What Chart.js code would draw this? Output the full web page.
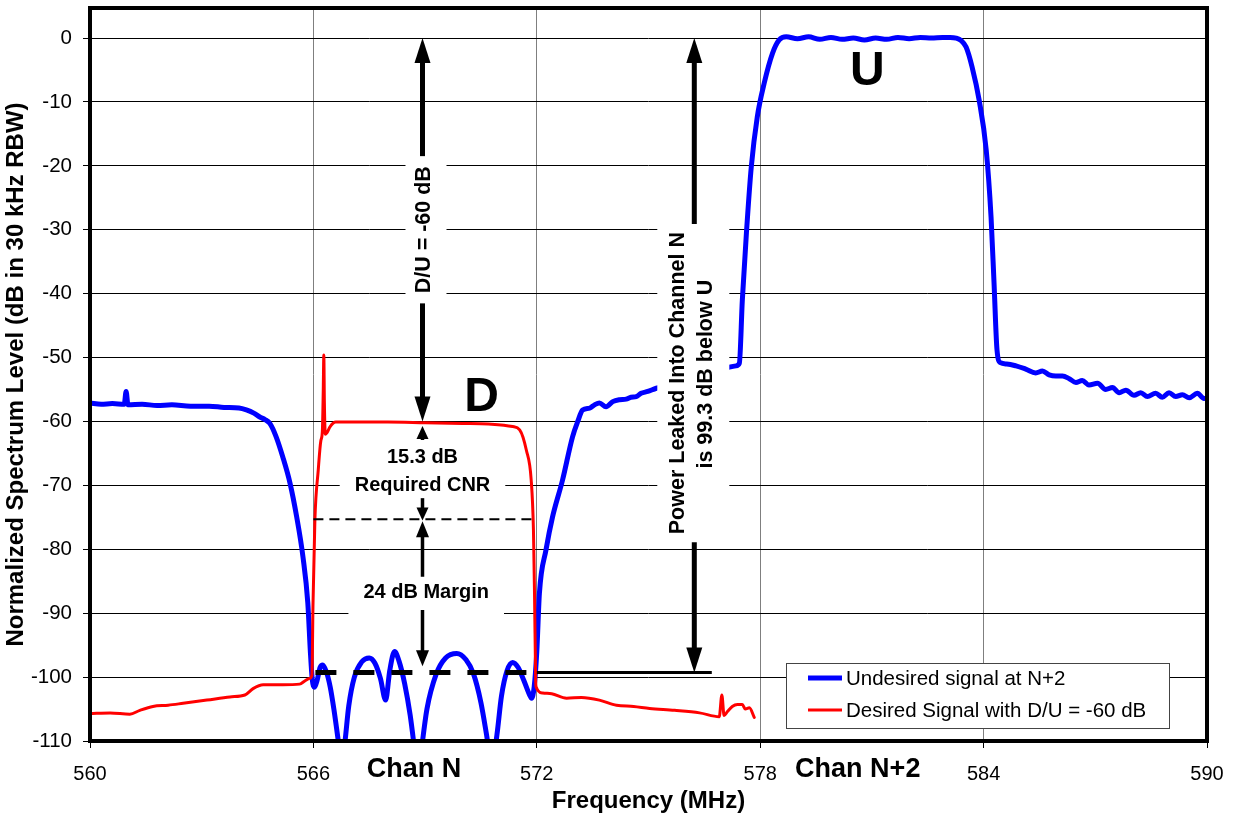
<!DOCTYPE html>
<html>
<head>
<meta charset="utf-8">
<title>Spectrum - Chan N / Chan N+2</title>
<script src="https://cdn.jsdelivr.net/npm/chart.js@4.4.1/dist/chart.umd.min.js"></script>
<style>
  html, body { margin: 0; padding: 0; background: #fff; }
  #wrap { width: 1234px; height: 820px; }
</style>
</head>
<body>
<div id="wrap"><canvas id="spectrum"></canvas></div>
<script>
// Undesired signal at N+2 (MHz, dB)
const undesiredFreq = [
  560.0, 560.3, 560.6, 560.92, 560.97, 561.02, 561.4, 561.8, 562.2, 562.7, 563.2, 563.6,
  564.0, 564.2, 564.4, 564.56, 564.7, 564.83, 565.0, 565.18, 565.37, 565.55, 565.72, 565.85,
  565.92, 565.97, 566.03, 566.1, 566.18, 566.25, 566.35, 566.45, 566.55, 566.68, 566.76, 566.85,
  566.95, 567.1, 567.3, 567.5, 567.65, 567.8, 567.94, 568.05, 568.18, 568.3, 568.45, 568.6,
  568.72, 568.81, 568.9, 569.05, 569.3, 569.55, 569.85, 570.1, 570.3, 570.5, 570.65, 570.79,
  570.93, 571.05, 571.2, 571.35, 571.5, 571.65, 571.8, 571.86, 571.93, 572.0, 572.07, 572.25,
  572.42, 572.69, 572.96, 573.1, 573.23, 573.42, 573.55, 573.68, 573.86, 574.04, 574.22, 574.4,
  574.53, 574.67, 574.8, 574.98, 575.21, 575.6, 576.0, 576.5, 577.0, 577.17, 577.35, 577.44,
  577.52, 577.63, 577.76, 577.92, 578.11, 578.33, 578.51, 578.7, 579.0, 579.3, 579.6, 579.9,
  580.2, 580.5, 580.8, 581.1, 581.4, 581.7, 582.0, 582.3, 582.6, 582.9, 583.1, 583.26,
  583.4, 583.53, 583.69, 583.88, 584.07, 584.2, 584.28, 584.36, 584.45, 584.62, 584.87, 585.13,
  585.4, 585.58, 585.76, 585.94, 586.12, 586.3, 586.48, 586.65, 586.83, 587.06, 587.28, 587.46,
  587.64, 587.82, 588.04, 588.22, 588.4, 588.62, 588.8, 588.98, 589.16, 589.34, 589.52, 589.74,
  589.92, 590.0
];
const undesiredLevel = [
  -57.1, -57.3, -57.2, -57.3, -55.3, -57.4, -57.3, -57.5, -57.4, -57.6, -57.6, -57.8,
  -57.9, -58.2, -58.7, -59.3, -59.7, -60.3, -62.4, -65.6, -69.6, -74.9, -81.2, -88.4,
  -96.2, -100.4, -101.6, -100.5, -98.5, -98.1, -99.2, -101.5, -105, -110.5, -114, -110,
  -104.5, -100, -97.6, -97.0, -97.8, -100.2, -103.6, -99, -96.0, -97.5, -101, -106,
  -111.5, -116, -111.5, -105, -99.5, -97, -96.3, -97.3, -99.5, -104, -109, -114,
  -109, -103, -99, -97.7, -98.5, -100.5, -102.7, -103.3, -101.5, -96, -86.9, -80,
  -75, -69.2, -62.4, -60, -58.2, -57.9, -57.4, -57.1, -57.7, -56.9, -56.6, -56.5,
  -56.2, -56.1, -55.6, -55.3, -54.8, -54.3, -53.5, -52.5, -51.8, -51.5, -51.3, -50.9,
  -41, -30.5, -20.2, -12.4, -7, -2.4, -0.3, 0.2, -0.1, 0.2, -0.2, 0.1,
  -0.2, 0.0, -0.3, 0.0, -0.2, 0.1, -0.1, 0.1, 0.0, 0.1, 0.1, 0.0,
  -0.4, -1.4, -4.5, -9.7, -17.5, -28, -38.3, -48.8, -50.8, -51.0, -51.3, -51.8,
  -52.4, -52.1, -52.7, -52.9, -52.9, -53.3, -53.9, -53.6, -54.3, -54.0, -55.0, -54.7,
  -55.5, -55.1, -55.9, -55.5, -56.1, -55.6, -56.2, -55.5, -56.1, -55.8, -56.3, -55.6,
  -56.4, -56.3
];

// Desired signal in channel N, D/U = -60 dB (MHz, dB)
const desiredFreq = [
  560.0, 560.54, 561.07, 561.34, 561.69, 562.1, 562.5, 563.14, 563.76, 564.16, 564.38, 564.65,
  565.18, 565.63, 565.77, 565.9, 565.96, 565.99, 566.04, 566.13, 566.2, 566.24, 566.265, 566.28,
  566.295, 566.32, 566.36, 566.45, 566.6, 567.0, 568.0, 569.0, 570.0, 570.7, 571.35, 571.54,
  571.72, 571.85, 571.91, 571.94, 571.97, 571.98, 572.16, 572.4, 572.8, 573.2, 573.68, 574.14,
  574.6, 575.03, 575.7, 576.37, 576.9, 576.97, 577.03, 577.12, 577.25, 577.39, 577.52, 577.6,
  577.71, 577.84
];
const desiredLevel = [
  -105.7, -105.6, -105.8, -105.2, -104.6, -104.4, -104.1, -103.6, -103.1, -102.8, -101.8, -101.2,
  -101.2, -101.1, -100.6, -100.2, -99.7, -88.4, -75.4, -67.6, -63.0, -61.6, -55, -49.6,
  -57, -62.0, -61.8, -60.8, -60.1, -60.1, -60.1, -60.2, -60.3, -60.4, -60.8, -61.3,
  -64.5, -69.2, -77, -87.5, -100.5, -101.5, -102.5, -102.6, -103.3, -103.2, -103.6, -104.4,
  -104.6, -104.9, -105.2, -105.6, -106.2, -102.8, -106.0, -105.4, -104.6, -104.3, -104.3, -105,
  -104.8, -106.3
];

const freqTicks = [560, 566, 572, 578, 584, 590];
const levelTicks = [-110, -100, -90, -80, -70, -60, -50, -40, -30, -20, -10, 0];

// channel N edges and the levels called out on the plot
const chanN = [566, 572];
const duRatio = -60;
const requiredCnr = 15.3;
const cnrLevel = duRatio - requiredCnr;
const leakLevel = -99.3;

const FONT = 'Arial, "Liberation Sans", sans-serif';
Chart.defaults.font.family = FONT;
Chart.defaults.color = '#000';

const toPoints = (xs, ys) => xs.map((x, i) => ({ x, y: ys[i] }));

function drawArrow(ctx, x, yTail, yTip, shaft, headW, headL) {
  const dir = yTip > yTail ? 1 : -1;
  const base = yTip - dir * headL;
  ctx.lineWidth = shaft;
  ctx.beginPath();
  ctx.moveTo(x, yTail);
  ctx.lineTo(x, base + dir);
  ctx.stroke();
  ctx.beginPath();
  ctx.moveTo(x, yTip);
  ctx.lineTo(x - headW / 2, base);
  ctx.lineTo(x + headW / 2, base);
  ctx.closePath();
  ctx.fill();
}

function hLine(ctx, x0, x1, y) {
  ctx.beginPath();
  ctx.moveTo(x0, y);
  ctx.lineTo(x1, y);
  ctx.stroke();
}

function text(ctx, str, x, y, size, rotated) {
  ctx.save();
  ctx.font = 'bold ' + size + 'px ' + FONT;
  ctx.textAlign = 'center';
  ctx.textBaseline = 'middle';
  ctx.fillStyle = '#000';
  ctx.translate(x, y);
  if (rotated) ctx.rotate(-Math.PI / 2);
  ctx.fillText(str, 0, 0);
  ctx.restore();
}

function textWidth(ctx, str, size) {
  ctx.font = 'bold ' + size + 'px ' + FONT;
  return ctx.measureText(str).width;
}

const annotations = {
  id: 'annotations',
  beforeDatasetsDraw(chart) {
    // knock the -100 gridline out under the leak marker
    const { ctx, scales: { x, y } } = chart;
    const x0 = x.getPixelForValue(chanN[0]) + 1;
    const x1 = x.getPixelForValue(chanN[1]) - 1;
    ctx.save();
    ctx.fillStyle = '#fff';
    ctx.fillRect(x0, y.getPixelForValue(-100) - 2, x1 - x0, 4);
    ctx.restore();
  },
  afterDraw(chart) {
    const { ctx, chartArea: a, scales: { x, y } } = chart;
    const px = v => x.getPixelForValue(v);
    const py = v => y.getPixelForValue(v);
    ctx.save();
    ctx.strokeStyle = '#000';
    ctx.fillStyle = '#000';

    // plot frame
    ctx.lineWidth = 4;
    ctx.strokeRect(a.left, a.top, a.right - a.left, a.bottom - a.top);

    // required CNR threshold and leak level
    ctx.lineWidth = 2;
    ctx.setLineDash([10, 6]);
    hLine(ctx, px(chanN[0]), px(chanN[1]), py(cnrLevel));
    ctx.lineWidth = 5;
    ctx.setLineDash([21, 17]);
    hLine(ctx, px(chanN[0]) + 2, px(chanN[1]), py(leakLevel));
    ctx.setLineDash([]);
    ctx.lineWidth = 3;
    hLine(ctx, px(chanN[1]), px(576.7), py(leakLevel));

    // D/U span
    const duX = px(568.93);
    const duY = py(-30);
    const duLabel = 'D/U = -60 dB';
    const duLen = textWidth(ctx, duLabel, 21.5);
    ctx.fillStyle = '#fff';
    ctx.fillRect(duX - 17, duY - duLen / 2 - 8, 41, duLen + 16);
    ctx.fillStyle = '#000';
    drawArrow(ctx, duX, duY - duLen / 2 - 10, py(0), 5, 16, 25);
    drawArrow(ctx, duX, duY + duLen / 2 + 10, py(duRatio), 5, 16, 25);
    text(ctx, duLabel, duX + 2, duY, 21.5, true);

    // leak into channel N
    const lkX = px(576.23);
    const lk1 = 'Power Leaked Into Channel N';
    const lk2 = 'is 99.3 dB below U';
    const lkLen = textWidth(ctx, lk1, 21.5);
    const lkY = py(-54.0);
    ctx.fillStyle = '#fff';
    ctx.fillRect(lkX - 37, lkY - lkLen / 2 - 5, 72, lkLen + 10);
    ctx.fillStyle = '#000';
    drawArrow(ctx, lkX, lkY - lkLen / 2 - 8, py(0), 5, 16, 25);
    drawArrow(ctx, lkX, lkY + lkLen / 2 + 8, py(leakLevel), 5, 16, 25);
    text(ctx, lk1, lkX - 16.5, lkY, 21.5, true);
    text(ctx, lk2, lkX + 12, py(-52.6), 21.5, true);

    // required CNR
    const cnrX = duX;
    const reqLabel = 'Required CNR';
    const reqW = textWidth(ctx, reqLabel, 20);
    const reqY = py(-70);
    ctx.fillStyle = '#fff';
    ctx.fillRect(cnrX - reqW / 2 - 15, reqY - 14, reqW + 30, 28);
    ctx.fillStyle = '#000';
    drawArrow(ctx, cnrX, py(-62.9), py(-60.7), 3.5, 12, 13);
    drawArrow(ctx, cnrX, py(-72.0), py(-75.5), 3.5, 12, 13);
    text(ctx, '15.3 dB', cnrX, py(-65.7), 20, false);
    text(ctx, reqLabel, cnrX, reqY, 20, false);

    // margin
    const mgLabel = '24 dB Margin';
    const mgW = textWidth(ctx, mgLabel, 20);
    const mgX = px(569.03);
    const mgY = py(-86.8);
    ctx.fillStyle = '#fff';
    ctx.fillRect(mgX - mgW / 2 - 15, mgY - 16, mgW + 30, 39);
    ctx.fillStyle = '#000';
    drawArrow(ctx, cnrX, py(-84.3), py(-75.6), 3.5, 13, 16);
    drawArrow(ctx, cnrX, py(-89.5), py(-98.3), 3.5, 13, 16);
    text(ctx, mgLabel, mgX, mgY, 20, false);

    // signal labels
    text(ctx, 'D', px(570.52), py(-56.3), 48, false);
    text(ctx, 'U', px(580.88), py(-5.3), 48, false);

    // channel names under the axis
    text(ctx, 'Chan N', px(568.7), a.bottom + 29, 27, false);
    text(ctx, 'Chan N+2', px(580.62), a.bottom + 29, 27, false);

    // legend
    const lw = 383, lh = 65;
    const lx = a.right - 38 - lw;
    const ly = a.bottom - 13 - lh;
    ctx.fillStyle = '#fff';
    ctx.fillRect(lx, ly, lw, lh);
    ctx.strokeStyle = '#444';
    ctx.lineWidth = 1;
    ctx.strokeRect(lx + 0.5, ly + 0.5, lw, lh);
    ctx.font = '20.5px ' + FONT;
    ctx.textAlign = 'left';
    ctx.textBaseline = 'middle';
    chart.data.datasets.forEach((ds, i) => {
      const cy = ly + 15 + i * 32;
      ctx.strokeStyle = ds.borderColor;
      ctx.lineWidth = ds.borderWidth;
      hLine(ctx, lx + 22, lx + 56, cy);
      ctx.fillStyle = '#000';
      ctx.fillText(ds.label, lx + 60, cy + 1);
    });
    ctx.restore();
  }
};

new Chart(document.getElementById('spectrum'), {
  type: 'line',
  data: {
    datasets: [
      {
        label: 'Undesired signal at N+2',
        data: toPoints(undesiredFreq, undesiredLevel),
        borderColor: '#0000ff',
        borderWidth: 5,
        order: 2
      },
      {
        label: 'Desired Signal with D/U = -60 dB',
        data: toPoints(desiredFreq, desiredLevel),
        borderColor: '#ff0000',
        borderWidth: 3,
        order: 1
      }
    ]
  },
  options: {
    responsive: true,
    maintainAspectRatio: false,
    animation: false,
    layout: { padding: { top: 8, right: 27, left: 0, bottom: 0 } },
    elements: {
      point: { radius: 0 },
      line: { cubicInterpolationMode: 'monotone', borderJoinStyle: 'round', borderCapStyle: 'round' }
    },
    plugins: {
      legend: { display: false },
      tooltip: { enabled: false }
    },
    scales: {
      x: {
        type: 'linear',
        min: 560,
        max: 590,
        afterBuildTicks: s => { s.ticks = freqTicks.map(v => ({ value: v })); },
        afterFit: s => {
          s.height = 79;
          s.paddingLeft = 0;
          s.paddingRight = 0;
        },
        border: { display: false },
        grid: { color: '#7f7f7f', lineWidth: 1, tickLength: 7, tickColor: '#000' },
        ticks: { font: { size: 20 }, padding: 14, maxRotation: 0 },
        title: {
          display: true,
          text: 'Frequency (MHz)',
          font: { size: 24, weight: 'bold' },
          padding: { top: 0, bottom: 4 }
        }
      },
      y: {
        min: -110,
        max: 4.7,
        afterBuildTicks: s => { s.ticks = levelTicks.map(v => ({ value: v })); },
        afterFit: s => {
          s.width = 90;
          s.paddingTop = 0;
          s.paddingBottom = 0;
        },
        border: { display: false },
        grid: { color: '#000', lineWidth: 1, tickLength: 7, tickColor: '#000' },
        ticks: { font: { size: 20.5 }, padding: 11 },
        title: {
          display: true,
          text: 'Normalized Spectrum Level (dB in 30 kHz RBW)',
          font: { size: 24, weight: 'bold' },
          padding: { top: 2, bottom: 0 }
        }
      }
    }
  },
  plugins: [annotations]
});
</script>
</body>
</html>
